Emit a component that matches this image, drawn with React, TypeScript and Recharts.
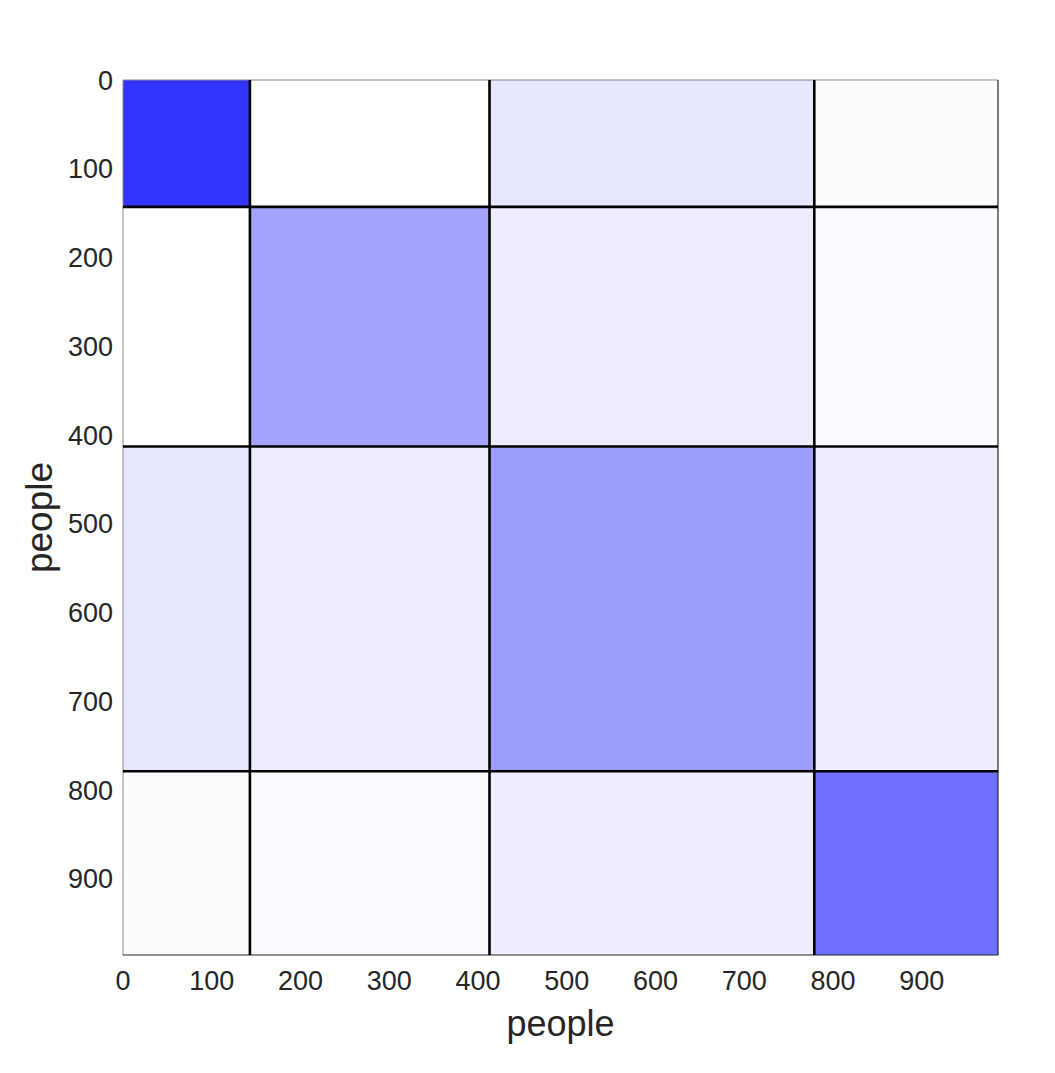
import { ScatterChart, Scatter, XAxis, YAxis, ReferenceArea, ReferenceLine, Label } from "recharts";

// group sizes (people per block), in order
const groupSizes = [143, 270, 366, 207];
// block connection probabilities, row = y block, col = x block
const blockValues = [
    [0.8, 0.0, 0.093, 0.01],
    [0.0, 0.36, 0.07, 0.016],
    [0.093, 0.07, 0.38, 0.072],
    [0.01, 0.016, 0.072, 0.565],
];
const tickValues = [0, 100, 200, 300, 400, 500, 600, 700, 800, 900];
const axisTitle = "people";

const edges = groupSizes.reduce<number[]>((acc, s) => [...acc, acc[acc.length - 1] + s], [0]);
const total = edges[edges.length - 1];

// block centres, only to give the axes something to scale
const centres = blockValues.flatMap((row, i) =>
    row.map((v, j) => ({
        x: (edges[j] + edges[j + 1]) / 2,
        y: (edges[i] + edges[i + 1]) / 2,
        v,
    }))
);

const cellColor = (v: number) => {
    const c = Math.round(255 * (1 - v));
    return `rgb(${c},${c},255)`;
};

const FONT = "'Liberation Sans', Arial, sans-serif";
const TEXT = "#262626";

export default function App() {
    const cells: JSX.Element[] = [];
    blockValues.forEach((row, i) =>
        row.forEach((v, j) => {
            cells.push(
                <ReferenceArea
                    key={`c-${i}-${j}`}
                    x1={edges[j]}
                    x2={edges[j + 1]}
                    y1={edges[i]}
                    y2={edges[i + 1]}
                    fill={cellColor(v)}
                    fillOpacity={1}
                    stroke="none"
                    ifOverflow="visible"
                />
            );
        })
    );

    const inner = edges.slice(1, -1);

    return (
        <div style={{ width: 1039, height: 1057, fontFamily: FONT }}>
            <ScatterChart
                width={1039}
                height={1057}
                margin={{ top: 72, right: 49, left: 35, bottom: 50 }}
            >
                <XAxis
                    type="number"
                    dataKey="x"
                    domain={[0, total]}
                    ticks={tickValues}
                    tickLine={false}
                    axisLine={false}
                    height={60}
                    tick={{ fill: TEXT, fontSize: 27, fontFamily: FONT }}
                    tickMargin={10}
                    interval={0}
                    allowDataOverflow
                >
                    <Label
                        value={axisTitle}
                        position="insideBottom"
                        offset={-21}
                        style={{ fill: TEXT, fontSize: 36, fontFamily: FONT }}
                    />
                </XAxis>
                <YAxis
                    type="number"
                    dataKey="y"
                    domain={[0, total]}
                    reversed
                    ticks={tickValues}
                    tickLine={false}
                    axisLine={false}
                    width={80}
                    tick={{ fill: TEXT, fontSize: 27, fontFamily: FONT }}
                    tickMargin={4}
                    interval={0}
                    allowDataOverflow
                >
                    <Label
                        value={axisTitle}
                        angle={-90}
                        position="insideLeft"
                        offset={-4}
                        style={{ fill: TEXT, fontSize: 37, fontFamily: FONT, textAnchor: "middle" }}
                    />
                </YAxis>
                {cells}
                <Scatter
                    data={centres}
                    isAnimationActive={false}
                    shape={() => <g />}
                />
                <ReferenceLine x={0} stroke="#8a8a8a" strokeWidth={1} />
                <ReferenceLine y={0} stroke="#8a8a8a" strokeWidth={1} />
                <ReferenceLine x={total} stroke="#262626" strokeWidth={1.2} />
                <ReferenceLine y={total} stroke="#262626" strokeWidth={1.2} />
                {inner.map((e) => (
                    <ReferenceLine key={`vx-${e}`} x={e} stroke="#000" strokeWidth={2.6} />
                ))}
                {inner.map((e) => (
                    <ReferenceLine key={`hy-${e}`} y={e} stroke="#000" strokeWidth={2.6} />
                ))}
            </ScatterChart>
        </div>
    );
}
